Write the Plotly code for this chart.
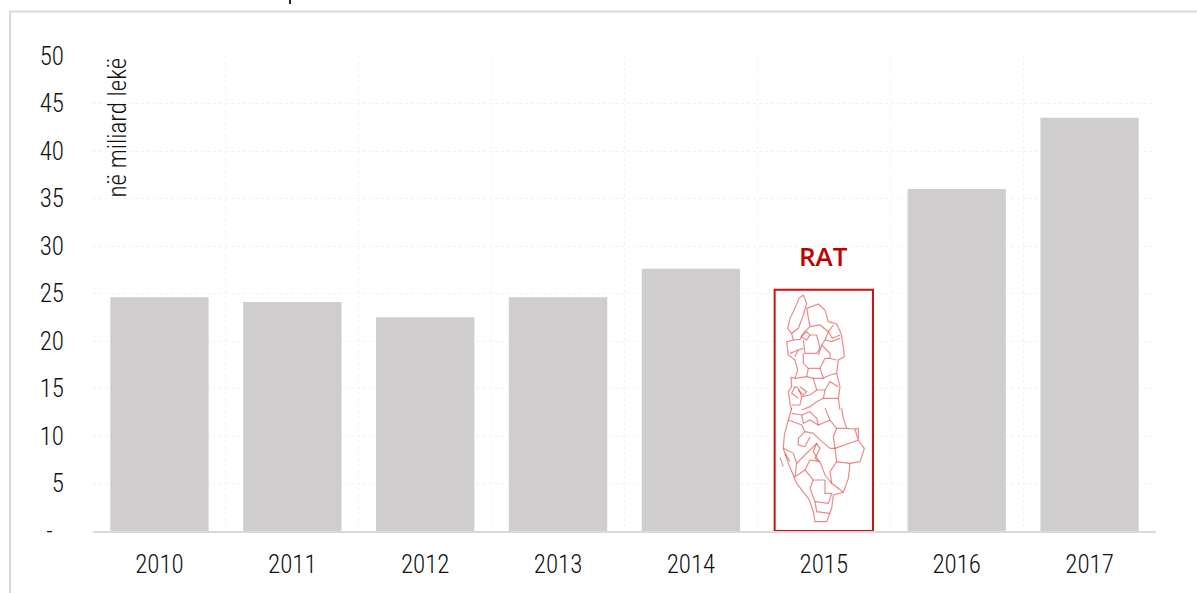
import plotly.graph_objects as go

years = ["2010", "2011", "2012", "2013", "2014", "2015", "2016", "2017"]
values = [24.6, 24.1, 22.5, 24.6, 27.6, 25.4, 36.0, 43.5]
bar_colors = ["#cfcdce"] * 5 + ["#ffffff"] + ["#cfcdce"] * 2
line_colors = ["rgba(0,0,0,0)"] * 5 + ["#cc1111"] + ["rgba(0,0,0,0)"] * 2
y_ticks = [0, 5, 10, 15, 20, 25, 30, 35, 40, 45, 50]
y_labels = ["-\u00a0\u00a0"] + [str(v) for v in y_ticks[1:]]

W, H = 1197, 593
L, R, T, B = 93, 1156, 56, 531
FONT = "Roboto Condensed, Liberation Sans Narrow, Roboto, sans-serif"
INK = "#111111"


def px(x):
    return (x - L) / (R - L)


def py(y):
    return (B - y) / (B - T)


# Decorative map inside the 2015 box: hand-traced outlines, 3x crop pixels
map_north = [
    [(85,15),(95,40),(85,75),(70,115),(50,130),(38,115),(45,85),(60,55),(72,25),(85,15)],
    [(95,55),(130,42),(150,60),(160,95),(185,102),(198,130),(205,170),(208,200),(190,210),(185,250),(195,290),(190,325),(195,360)],
    [(50,130),(55,150),(35,155),(40,195),(60,210),(68,240),(60,265),(48,262),(50,290),(40,305),(45,340),(50,360)],
    [(95,55),(105,110),(85,130),(75,148),(55,150)],
    [(78,140),(95,125),(105,135),(95,150),(78,140)],
    [(105,110),(135,105),(160,125),(150,150),(140,165),(130,195)],
    [(160,125),(175,105)],
    [(160,125),(172,145),(195,135)],
    [(105,135),(125,135),(135,175),(125,190),(90,190),(85,150)],
    [(150,150),(170,155),(195,145)],
    [(140,165),(165,190),(165,205),(185,210)],
    [(85,190),(85,220),(100,235),(135,235),(150,205),(165,205)],
    [(45,190),(70,180),(85,175)],
    [(70,180),(60,200)],
    [(100,235),(95,260),(60,265)],
    [(135,235),(145,265),(115,265),(95,260)],
    [(145,265),(165,255),(185,250)],
    [(115,265),(125,300),(150,300),(165,275),(190,290)],
    [(150,300),(145,325),(190,325)],
    [(125,300),(105,315),(80,320),(70,295),(60,290),(50,310),(70,325)],
    [(75,290),(95,305),(85,315),(70,300)],
    [(145,325),(125,335),(105,350),(80,360)],
    [(80,320),(75,345),(50,345)],
]
map_south = [
    [(200,10),(205,40),(215,70),(240,72),(250,70),(250,105),(268,130),(255,170),(225,175),(220,220),(205,262),(175,270),(170,310),(155,350),(120,350),(115,320),(105,290),(100,280),(65,235),(40,175),(25,130),(28,90),(40,45),(50,10)],
    [(15,158),(25,185)],
    [(150,10),(165,45),(185,70),(215,70)],
    [(165,45),(130,60),(105,45),(85,55),(80,30),(50,25)],
    [(80,30),(105,20),(125,40),(130,60)],
    [(40,45),(80,60),(90,80),(115,85),(130,100),(165,130)],
    [(90,80),(70,100),(70,120),(90,125),(105,95)],
    [(185,70),(175,95),(180,130),(250,105)],
    [(165,130),(180,130),(185,170),(225,175)],
    [(185,170),(165,200),(170,235),(205,262)],
    [(25,130),(55,145),(65,175),(90,150),(105,135),(125,115),(135,130),(120,160),(135,170)],
    [(135,170),(150,210),(170,235)],
    [(135,170),(105,165),(90,195),(115,225),(150,225)],
    [(65,175),(60,215),(90,195)],
    [(115,225),(105,250),(120,290),(160,295),(170,265)],
    [(150,225),(150,265),(170,265)],
    [(120,290),(125,320),(165,325)],
    [(30,145),(45,170)],
    [(125,115),(115,140),(130,165)],
    [(240,72),(248,100)],
]

shapes = [
    dict(type="line", xref="paper", yref="paper", x0=px(10), x1=px(1197), y0=py(11.5), y1=py(11.5),
         line=dict(color="#d9d9d9", width=2)),
    dict(type="line", xref="paper", yref="paper", x0=px(10), x1=px(10), y0=py(11), y1=py(593),
         line=dict(color="#d9d9d9", width=2)),
    dict(type="line", xref="paper", yref="paper", x0=px(290), x1=px(290), y0=py(0), y1=py(4),
         line=dict(color="#262626", width=2)),
]
for origin, polys in (((775, 290), map_north), ((775, 405), map_south)):
    for poly in polys:
        d = ""
        for i, (zx, zy) in enumerate(poly):
            d += ("M" if i == 0 else "L") + f"{px(origin[0] + zx / 3):.5f},{py(origin[1] + zy / 3):.5f} "
        shapes.append(dict(type="path", xref="paper", yref="paper", path=d.strip(),
                           line=dict(color="rgba(222,60,60,0.6)", width=1.2), layer="above"))

fig = go.Figure(go.Bar(
    x=years, y=values, width=0.74,
    marker=dict(color=bar_colors, line=dict(color=line_colors, width=2)),
    hoverinfo="x+y",
))

fig.update_layout(
    width=W, height=H,
    margin=dict(l=L, r=W - R, t=T, b=H - B, autoexpand=False),
    paper_bgcolor="white", plot_bgcolor="white",
    showlegend=False,
    font=dict(family=FONT, size=25, color=INK, weight=300),
    shapes=shapes,
    annotations=[
        dict(text="RAT", x=years.index("2015"), y=28.9, xref="x", yref="y", showarrow=False,
             font=dict(family="Open Sans, sans-serif", size=26, color="#c00000", weight=600)),
        dict(text="në miliard lekë", x=px(117), y=py(127.5), xref="paper", yref="paper",
             xanchor="center", yanchor="middle",
             showarrow=False, textangle=-90, font=dict(family=FONT, size=25, color=INK, weight=300)),
    ],
    xaxis=dict(
        type="category", categoryorder="array", categoryarray=years,
        tickson="boundaries", showgrid=True, gridcolor="#f2f2f2", griddash="dot", gridwidth=1,
        showline=True, linecolor="#d9d9d9", linewidth=2, ticks="", ticklabelstandoff=10, tickangle=0,
        tickfont=dict(family=FONT, size=25, color=INK, weight=300),
        zeroline=False,
    ),
    yaxis=dict(
        range=[0, 50], tickmode="array", tickvals=y_ticks, ticktext=y_labels,
        showgrid=True, gridcolor="#f2f2f2", griddash="dot", gridwidth=1,
        showline=False, zeroline=False, ticks="outside", ticklen=23, tickcolor="rgba(0,0,0,0)",
        tickfont=dict(family=FONT, size=25, color=INK, weight=300),
    ),
)

fig.write_html("out.html", config={"displayModeBar": False},
               post_script="document.body.style.margin='0';")
